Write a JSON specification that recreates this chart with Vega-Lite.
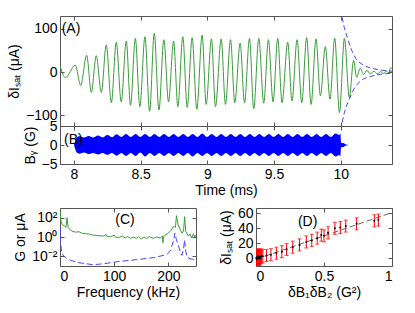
{
  "$schema": "https://vega.github.io/schema/vega-lite/v6.json",
  "padding": {"left": 6, "top": 15, "right": 0, "bottom": 0},
  "config": {
    "font": "Liberation Sans",
    "view": {"stroke": "#555555", "strokeWidth": 1},
    "axis": {"domain": false, "grid": false, "tickSize": -4, "labelPadding": 7, "tickColor": "#555555", "labelFontSize": 14, "titleFontSize": 14, "titleFontWeight": "normal", "labelColor": "#000000", "titleColor": "#000000", "labelFont": "Liberation Sans", "titleFont": "Liberation Sans"},
    "text": {"font": "Liberation Sans", "fontSize": 14}
  },
  "datasets": {
    "wave": [
      {"t": 7.895, "v": 15}, {"t": 7.935, "v": -13}, {"t": 8.01, "v": 16}, {"t": 8.05, "v": -31},
      {"t": 8.095, "v": 39}, {"t": 8.13, "v": -47}, {"t": 8.167, "v": 38}, {"t": 8.205, "v": -47},
      {"t": 8.242, "v": 63}, {"t": 8.28, "v": -71}, {"t": 8.317, "v": 69}, {"t": 8.354, "v": -69},
      {"t": 8.392, "v": 72}, {"t": 8.424, "v": -77}, {"t": 8.46, "v": 78}, {"t": 8.494, "v": -80},
      {"t": 8.532, "v": 82}, {"t": 8.567, "v": -91}, {"t": 8.602, "v": 90}, {"t": 8.637, "v": -88},
      {"t": 8.674, "v": 75}, {"t": 8.709, "v": -69}, {"t": 8.747, "v": 72}, {"t": 8.779, "v": -80},
      {"t": 8.816, "v": 82}, {"t": 8.849, "v": -82}, {"t": 8.886, "v": 80}, {"t": 8.921, "v": -86},
      {"t": 8.961, "v": 86}, {"t": 8.991, "v": -75}, {"t": 9.031, "v": 77}, {"t": 9.061, "v": -80},
      {"t": 9.104, "v": 77}, {"t": 9.136, "v": -75}, {"t": 9.174, "v": 75}, {"t": 9.206, "v": -71},
      {"t": 9.246, "v": 67}, {"t": 9.279, "v": -71}, {"t": 9.316, "v": 78}, {"t": 9.348, "v": -85},
      {"t": 9.386, "v": 78}, {"t": 9.423, "v": -72}, {"t": 9.458, "v": 75}, {"t": 9.493, "v": -69},
      {"t": 9.528, "v": 78}, {"t": 9.56, "v": -71}, {"t": 9.603, "v": 69}, {"t": 9.635, "v": -67},
      {"t": 9.673, "v": 75}, {"t": 9.708, "v": -71}, {"t": 9.745, "v": 80}, {"t": 9.778, "v": -75},
      {"t": 9.815, "v": 77}, {"t": 9.848, "v": -55}, {"t": 9.885, "v": 59}, {"t": 9.92, "v": -63},
      {"t": 9.955, "v": 79}, {"t": 9.991, "v": -94}, {"t": 10.028, "v": 78}, {"t": 10.065, "v": -59},
      {"t": 10.097, "v": 27}, {"t": 10.12, "v": -12}, {"t": 10.147, "v": 9}, {"t": 10.172, "v": -6},
      {"t": 10.197, "v": 4}, {"t": 10.222, "v": -4}, {"t": 10.25, "v": 2}, {"t": 10.275, "v": -4},
      {"t": 10.3, "v": 1}, {"t": 10.32, "v": -3}, {"t": 10.345, "v": 2}, {"t": 10.36, "v": -2},
      {"t": 10.375, "v": 10}, {"t": 10.385, "v": 8}
    ],
    "env": [
      {"t": 10.0, "v": 145, "s": "u"}, {"t": 10.022, "v": 110, "s": "u"}, {"t": 10.052, "v": 78, "s": "u"},
      {"t": 10.077, "v": 55, "s": "u"}, {"t": 10.115, "v": 31, "s": "u"}, {"t": 10.152, "v": 20, "s": "u"},
      {"t": 10.2, "v": 12, "s": "u"}, {"t": 10.277, "v": 6, "s": "u"}, {"t": 10.385, "v": 2, "s": "u"},
      {"t": 10.0, "v": -135, "s": "l"}, {"t": 10.028, "v": -94, "s": "l"}, {"t": 10.065, "v": -63, "s": "l"},
      {"t": 10.1, "v": -39, "s": "l"}, {"t": 10.152, "v": -20, "s": "l"}, {"t": 10.227, "v": -10, "s": "l"},
      {"t": 10.3, "v": -5, "s": "l"}, {"t": 10.385, "v": -3, "s": "l"}
    ],
    "bfield": [
      {"t": 8.0, "hi": 0, "lo": 0}, {"t": 8.01, "hi": 1.2, "lo": -1.2}, {"t": 8.02, "hi": 2.0, "lo": -2.0},
      {"t": 8.04, "hi": 2.3, "lo": -2.3}, {"t": 8.075, "hi": 2.0, "lo": -2.0}, {"t": 8.11, "hi": 2.4, "lo": -2.4},
      {"t": 8.145, "hi": 2.0, "lo": -2.1}, {"t": 8.18, "hi": 2.5, "lo": -2.5}, {"t": 8.215, "hi": 2.0, "lo": -2.1},
      {"t": 8.25, "hi": 2.6, "lo": -2.6}, {"t": 8.285, "hi": 2.05, "lo": -2.1}, {"t": 8.32, "hi": 2.8, "lo": -2.8},
      {"t": 8.355, "hi": 2.1, "lo": -2.1}, {"t": 8.39, "hi": 2.9, "lo": -2.9}, {"t": 8.426, "hi": 2.1, "lo": -2.1},
      {"t": 8.462, "hi": 2.9, "lo": -2.9}, {"t": 8.497, "hi": 2.1, "lo": -2.0}, {"t": 8.533, "hi": 2.9, "lo": -3.0},
      {"t": 8.569, "hi": 2.1, "lo": -2.1}, {"t": 8.604, "hi": 2.9, "lo": -2.9}, {"t": 8.64, "hi": 2.1, "lo": -2.1},
      {"t": 8.676, "hi": 2.9, "lo": -2.9}, {"t": 8.712, "hi": 2.1, "lo": -2.1}, {"t": 8.747, "hi": 2.9, "lo": -2.9},
      {"t": 8.783, "hi": 2.1, "lo": -2.1}, {"t": 8.819, "hi": 2.9, "lo": -2.9}, {"t": 8.854, "hi": 2.1, "lo": -2.1},
      {"t": 8.89, "hi": 2.9, "lo": -3.0}, {"t": 8.926, "hi": 2.1, "lo": -2.1}, {"t": 8.962, "hi": 3.0, "lo": -2.9},
      {"t": 8.997, "hi": 2.1, "lo": -2.1}, {"t": 9.033, "hi": 2.9, "lo": -2.9}, {"t": 9.069, "hi": 2.1, "lo": -2.1},
      {"t": 9.104, "hi": 2.9, "lo": -2.9}, {"t": 9.14, "hi": 2.1, "lo": -2.1}, {"t": 9.176, "hi": 2.9, "lo": -2.9},
      {"t": 9.212, "hi": 2.1, "lo": -2.1}, {"t": 9.247, "hi": 2.9, "lo": -2.9}, {"t": 9.283, "hi": 2.1, "lo": -2.1},
      {"t": 9.319, "hi": 2.9, "lo": -2.9}, {"t": 9.354, "hi": 2.1, "lo": -2.1}, {"t": 9.39, "hi": 2.9, "lo": -2.9},
      {"t": 9.426, "hi": 2.1, "lo": -2.1}, {"t": 9.462, "hi": 2.9, "lo": -2.9}, {"t": 9.497, "hi": 2.1, "lo": -2.1},
      {"t": 9.533, "hi": 2.9, "lo": -2.9}, {"t": 9.569, "hi": 2.1, "lo": -2.1}, {"t": 9.604, "hi": 2.9, "lo": -2.9},
      {"t": 9.64, "hi": 2.1, "lo": -2.1}, {"t": 9.676, "hi": 2.9, "lo": -2.9}, {"t": 9.712, "hi": 2.1, "lo": -2.1},
      {"t": 9.747, "hi": 2.9, "lo": -2.9}, {"t": 9.783, "hi": 2.1, "lo": -2.1}, {"t": 9.819, "hi": 2.9, "lo": -2.9},
      {"t": 9.854, "hi": 2.1, "lo": -2.1}, {"t": 9.89, "hi": 2.9, "lo": -2.9}, {"t": 9.926, "hi": 2.1, "lo": -2.1},
      {"t": 9.962, "hi": 3.0, "lo": -3.0}, {"t": 9.99, "hi": 2.6, "lo": -2.6}, {"t": 9.998, "hi": 3.0, "lo": -3.0},
      {"t": 10.003, "hi": 0.6, "lo": -0.6}, {"t": 10.02, "hi": 0.5, "lo": -0.5}, {"t": 10.04, "hi": 0.15, "lo": -0.15},
      {"t": 10.06, "hi": 0, "lo": 0}
    ],
    "specG": [
      {"f": 0, "g": 692}, {"f": 1, "g": 100}, {"f": 2, "g": 40}, {"f": 4, "g": 20}, {"f": 8, "g": 14},
      {"f": 11, "g": 10}, {"f": 13, "g": 100}, {"f": 15, "g": 9}, {"f": 20, "g": 5}, {"f": 24, "g": 3.6},
      {"f": 30, "g": 3.2}, {"f": 35, "g": 3.5}, {"f": 40, "g": 2.5}, {"f": 49, "g": 2.1}, {"f": 55, "g": 2.0},
      {"f": 60, "g": 1.6}, {"f": 70, "g": 1.4}, {"f": 80, "g": 1.26}, {"f": 85, "g": 1.8}, {"f": 87, "g": 1.1},
      {"f": 95, "g": 1.1}, {"f": 100, "g": 1.6}, {"f": 103, "g": 0.9}, {"f": 110, "g": 0.93}, {"f": 115, "g": 1.26},
      {"f": 120, "g": 0.8}, {"f": 125, "g": 1.1}, {"f": 130, "g": 0.7}, {"f": 135, "g": 1.0}, {"f": 141, "g": 0.72},
      {"f": 145, "g": 1.1}, {"f": 150, "g": 0.63}, {"f": 155, "g": 1.0}, {"f": 160, "g": 0.7}, {"f": 165, "g": 1.1},
      {"f": 172, "g": 0.72}, {"f": 178, "g": 1.0}, {"f": 185, "g": 0.8}, {"f": 189, "g": 1.26}, {"f": 190, "g": 0.25},
      {"f": 191, "g": 1.1}, {"f": 195, "g": 1.6}, {"f": 200, "g": 2.5}, {"f": 205, "g": 5}, {"f": 209, "g": 12},
      {"f": 213, "g": 10}, {"f": 215, "g": 160}, {"f": 218, "g": 18}, {"f": 222, "g": 6}, {"f": 225, "g": 2.5},
      {"f": 228, "g": 4}, {"f": 230, "g": 126}, {"f": 232, "g": 4}, {"f": 234, "g": 2.5}, {"f": 237, "g": 1.26},
      {"f": 240, "g": 2}, {"f": 243, "g": 0.8}, {"f": 246, "g": 2}, {"f": 249, "g": 1}, {"f": 250, "g": 1.6}
    ],
    "specB": [
      {"f": 0, "g": 10}, {"f": 1, "g": 0.32}, {"f": 3, "g": 0.028}, {"f": 6, "g": 0.0126}, {"f": 12, "g": 0.0063},
      {"f": 20, "g": 0.0038}, {"f": 35, "g": 0.0022}, {"f": 49, "g": 0.0017}, {"f": 61, "g": 0.00135},
      {"f": 80, "g": 0.0017}, {"f": 110, "g": 0.003}, {"f": 141, "g": 0.0045}, {"f": 172, "g": 0.0072},
      {"f": 197, "g": 0.015}, {"f": 203, "g": 0.032}, {"f": 206, "g": 0.1}, {"f": 210, "g": 0.5},
      {"f": 212, "g": 2.5}, {"f": 215, "g": 0.5}, {"f": 218, "g": 0.145}, {"f": 222, "g": 0.032},
      {"f": 225, "g": 0.0126}, {"f": 228, "g": 0.063}, {"f": 230, "g": 0.5}, {"f": 232, "g": 0.032},
      {"f": 235, "g": 0.008}, {"f": 240, "g": 0.0056}, {"f": 245, "g": 0.005}, {"f": 250, "g": 0.0045}
    ],
    "corr": [
      {"x": 0.002, "y": 1, "lo": -9, "hi": 11}, {"x": 0.005, "y": -1, "lo": -11, "hi": 9},
      {"x": 0.008, "y": 2, "lo": -8, "hi": 12}, {"x": 0.012, "y": 0, "lo": -10, "hi": 10},
      {"x": 0.015, "y": 3, "lo": -7, "hi": 13}, {"x": 0.02, "y": 1, "lo": -9, "hi": 11},
      {"x": 0.025, "y": 2, "lo": -8, "hi": 12}, {"x": 0.03, "y": 0, "lo": -10, "hi": 10},
      {"x": 0.035, "y": 3, "lo": -7, "hi": 13}, {"x": 0.04, "y": 2.7, "lo": -6, "hi": 11},
      {"x": 0.05, "y": 3, "lo": -6, "hi": 12}, {"x": 0.077, "y": 4, "lo": -4, "hi": 12},
      {"x": 0.11, "y": 5, "lo": -3, "hi": 13}, {"x": 0.15, "y": 7, "lo": -1, "hi": 15},
      {"x": 0.19, "y": 9, "lo": 1, "hi": 17}, {"x": 0.225, "y": 12, "lo": 4, "hi": 20},
      {"x": 0.27, "y": 15, "lo": 7, "hi": 23}, {"x": 0.32, "y": 18, "lo": 10, "hi": 26},
      {"x": 0.37, "y": 22, "lo": 14, "hi": 30}, {"x": 0.41, "y": 24, "lo": 16, "hi": 32},
      {"x": 0.45, "y": 27, "lo": 19, "hi": 35}, {"x": 0.48, "y": 31, "lo": 23, "hi": 39},
      {"x": 0.5, "y": 30, "lo": 22, "hi": 38}, {"x": 0.53, "y": 34, "lo": 26, "hi": 42},
      {"x": 0.58, "y": 40, "lo": 32, "hi": 48}, {"x": 0.62, "y": 41, "lo": 33, "hi": 49},
      {"x": 0.66, "y": 43, "lo": 35, "hi": 51}, {"x": 0.74, "y": 46, "lo": 38, "hi": 54},
      {"x": 0.87, "y": 50, "lo": 42, "hi": 58}, {"x": 0.9, "y": 51, "lo": 43, "hi": 59}
    ],
    "fit": [{"x": 0, "y": -1}, {"x": 1, "y": 61}]
  },
  "spacing": 0,
  "bounds": "flush",
  "vconcat": [
    {
      "width": 332,
      "height": 110,
      "resolve": {"axis": {"x": "independent", "y": "independent"}},
      "layer": [
        {
          "data": {"name": "wave"},
          "mark": {"type": "line", "color": "#3a9d3a", "strokeWidth": 1, "interpolate": "monotone", "clip": true},
          "encoding": {
            "x": {"field": "t", "type": "quantitative", "scale": {"domain": [7.895, 10.385], "nice": false, "zero": false}, "axis": {"values": [8, 8.5, 9, 9.5, 10], "labels": false, "title": null}},
            "y": {"field": "v", "type": "quantitative", "scale": {"domain": [-125, 130], "nice": false}, "axis": {"values": [-100, 0, 100], "title": "δIₛₐₜ (μA)"}}
          }
        },
        {
          "data": {"name": "wave"},
          "mark": {"type": "line", "opacity": 0},
          "encoding": {
            "x": {"field": "t", "type": "quantitative", "axis": {"orient": "top", "values": [8, 8.5, 9, 9.5, 10], "labels": false, "title": null}},
            "y": {"field": "v", "type": "quantitative", "axis": {"orient": "right", "values": [-100, 0, 100], "labels": false, "title": null}}
          }
        },
        {
          "data": {"name": "env"},
          "mark": {"type": "line", "color": "#4444ff", "strokeWidth": 1, "strokeDash": [5, 3], "interpolate": "monotone", "clip": true},
          "encoding": {
            "x": {"field": "t", "type": "quantitative", "axis": null},
            "y": {"field": "v", "type": "quantitative", "axis": null},
            "detail": {"field": "s"}
          }
        },
        {
          "mark": {"type": "rule", "color": "#666666", "strokeWidth": 2, "strokeDash": [6, 3]},
          "encoding": {"x": {"datum": 10.002, "axis": null}}
        },
        {
          "data": {"values": [{"t": 7.9, "v": 100, "label": "(A)"}]},
          "mark": {"type": "text", "align": "left", "baseline": "middle", "dx": 1},
          "encoding": {"x": {"field": "t", "type": "quantitative", "axis": null}, "y": {"field": "v", "type": "quantitative", "axis": null}, "text": {"field": "label"}}
        }
      ]
    },
    {
      "width": 332,
      "height": 38,
      "resolve": {"axis": {"x": "independent", "y": "independent"}},
      "layer": [
        {
          "data": {"name": "bfield"},
          "mark": {"type": "area", "color": "#0000ff", "interpolate": "monotone", "opacity": 1},
          "encoding": {
            "x": {"field": "t", "type": "quantitative", "scale": {"domain": [7.895, 10.385], "nice": false, "zero": false}, "axis": {"values": [8, 8.5, 9, 9.5, 10], "format": "~g", "title": "Time (ms)", "titlePadding": 2}},
            "y": {"field": "hi", "type": "quantitative", "scale": {"domain": [-5, 5], "nice": false}, "axis": {"values": [-5, 0, 5], "title": "Bᵧ (G)"}},
            "y2": {"field": "lo"}
          }
        },
        {
          "data": {"name": "bfield"},
          "mark": {"type": "line", "opacity": 0},
          "encoding": {
            "x": {"field": "t", "type": "quantitative", "axis": {"orient": "top", "values": [8, 8.5, 9, 9.5, 10], "labels": false, "title": null}},
            "y": {"field": "hi", "type": "quantitative", "axis": {"orient": "right", "values": [-5, 0, 5], "labels": false, "title": null}}
          }
        },
        {
          "mark": {"type": "rule", "color": "#0000ff", "strokeWidth": 1},
          "encoding": {"y": {"datum": 0, "axis": null}}
        },
        {
          "data": {"values": [{"t": 7.925, "v": 1.2, "label": "(B)"}]},
          "mark": {"type": "text", "align": "left", "baseline": "middle"},
          "encoding": {"x": {"field": "t", "type": "quantitative", "axis": null}, "y": {"field": "v", "type": "quantitative", "axis": null}, "text": {"field": "label"}}
        }
      ]
    },
    {
      "width": 1,
      "height": 44,
      "view": {"stroke": null},
      "data": {"values": [{"k": 1}]},
      "mark": {"type": "point", "opacity": 0},
      "encoding": {}
    },
    {
      "spacing": 60,
      "bounds": "flush",
      "hconcat": [
        {
          "width": 136,
          "height": 58,
          "resolve": {"axis": {"x": "independent", "y": "independent"}},
          "layer": [
            {
              "data": {"name": "specG"},
              "mark": {"type": "line", "color": "#3a9d3a", "strokeWidth": 1, "clip": true},
              "encoding": {
                "x": {"field": "f", "type": "quantitative", "scale": {"domain": [0, 251], "nice": false}, "axis": {"values": [0, 100, 200], "title": "Frequency (kHz)", "titlePadding": 2}},
                "y": {"field": "g", "type": "quantitative", "scale": {"type": "log", "domain": [0.001, 1000], "nice": false}, "axis": {"values": [0.01, 1, 100], "labelExpr": "datum.value >= 50 ? '10²' : (datum.value >= 0.5 ? '10⁰' : '10⁻²')", "title": "G or μA"}}
              }
            },
            {
              "data": {"name": "specG"},
              "mark": {"type": "line", "opacity": 0},
              "encoding": {
                "x": {"field": "f", "type": "quantitative", "axis": {"orient": "top", "values": [0, 100, 200], "labels": false, "title": null}},
                "y": {"field": "g", "type": "quantitative", "axis": {"orient": "right", "values": [0.01, 1, 100], "labels": false, "title": null}}
              }
            },
            {
              "data": {"name": "specB"},
              "mark": {"type": "line", "color": "#4444ff", "strokeWidth": 1, "strokeDash": [6, 3], "clip": true},
              "encoding": {
                "x": {"field": "f", "type": "quantitative", "axis": null},
                "y": {"field": "g", "type": "quantitative", "axis": null}
              }
            },
            {
              "data": {"values": [{"f": 120, "g": 60, "label": "(C)"}]},
              "mark": {"type": "text", "align": "center", "baseline": "middle"},
              "encoding": {"x": {"field": "f", "type": "quantitative", "axis": null}, "y": {"field": "g", "type": "quantitative", "axis": null}, "text": {"field": "label"}}
            }
          ]
        },
        {
          "width": 136,
          "height": 58,
          "resolve": {"axis": {"x": "independent", "y": "independent"}},
          "layer": [
            {
              "data": {"name": "fit"},
              "mark": {"type": "line", "opacity": 0},
              "encoding": {
                "x": {"field": "x", "type": "quantitative", "scale": {"domain": [0, 1], "nice": false}, "axis": {"values": [0, 0.5, 1], "format": "~g", "title": "δB₁δB₂ (G²)", "titlePadding": 2}},
                "y": {"field": "y", "type": "quantitative", "scale": {"domain": [-10, 67], "nice": false}, "axis": {"values": [0, 20, 40, 60], "title": "δIₛₐₜ (μA)"}}
              }
            },
            {
              "mark": {"type": "rule", "color": "#aaaaaa", "strokeWidth": 2.5},
              "encoding": {"y": {"datum": 0, "axis": null}}
            },
            {
              "data": {"name": "fit"},
              "mark": {"type": "line", "color": "#666666", "strokeWidth": 1, "strokeDash": [6, 3], "clip": true},
              "encoding": {
                "x": {"field": "x", "type": "quantitative", "axis": {"orient": "top", "values": [0, 0.5, 1], "labels": false, "title": null}},
                "y": {"field": "y", "type": "quantitative", "axis": {"orient": "right", "values": [0, 20, 40, 60], "labels": false, "title": null}}
              }
            },
            {
              "data": {"name": "corr"},
              "mark": {"type": "errorbar", "color": "#ff0000", "ticks": {"size": 4, "color": "#ff0000"}, "rule": {"strokeWidth": 1}, "clip": true},
              "encoding": {
                "x": {"field": "x", "type": "quantitative", "axis": null},
                "y": {"field": "lo", "type": "quantitative", "axis": null},
                "y2": {"field": "hi"}
              }
            },
            {
              "data": {"name": "corr"},
              "mark": {"type": "point", "filled": true, "color": "#000000", "size": 4, "opacity": 1},
              "encoding": {
                "x": {"field": "x", "type": "quantitative", "axis": null},
                "y": {"field": "y", "type": "quantitative", "axis": null}
              }
            },
            {
              "data": {"values": [{"x": 0.38, "y": 49, "label": "(D)"}]},
              "mark": {"type": "text", "align": "center", "baseline": "middle"},
              "encoding": {"x": {"field": "x", "type": "quantitative", "axis": null}, "y": {"field": "y", "type": "quantitative", "axis": null}, "text": {"field": "label"}}
            }
          ]
        }
      ]
    }
  ]
}
